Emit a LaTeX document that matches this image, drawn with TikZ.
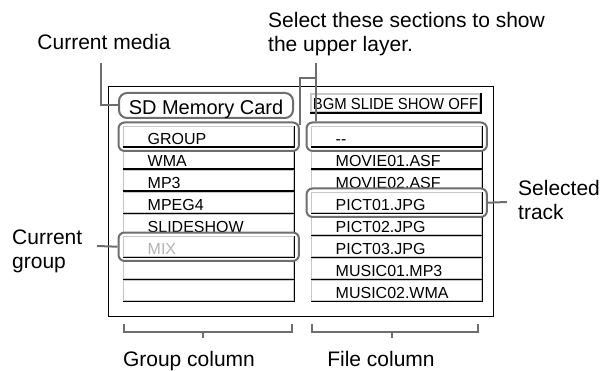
\documentclass[tikz,border=0pt]{standalone}
\usepackage{fontspec}
\setmainfont{Liberation Sans}
\usetikzlibrary{fit}

\definecolor{leadgray}{HTML}{6E6E6E}
\definecolor{edgelight}{HTML}{C8C8C8}
\definecolor{mixgray}{HTML}{B4B4B4}

\newcommand{\labelfont}{\fontsize{21}{24}\selectfont}
\newcommand{\cellfont}{\fontsize{16}{18}\selectfont}

\tikzset{
  lead/.style={draw=leadgray, line width=2pt},
  callout/.style={font=\labelfont, inner sep=0pt, align=left},
  cell/.style={draw=edgelight, line width=1.4pt, fill=white, inner sep=0pt,
    minimum height=20pt, text width=170pt, text height=16pt, text depth=0pt,
    align=left, font=\cellfont, anchor=north west},
  darkedge/.style={draw=black, line width=1.8pt},
  hilite/.style={draw=leadgray, line width=2pt, rounded corners=6pt, fill=white,
    inner xsep=4.5pt, inner ysep=3.5pt},
}

% one row of the menu: name, top left corner, text
\newcommand{\menucell}[3]{%
  \node[cell] (#1) at (#2) {\hspace*{24pt}#3};
  \draw[darkedge] (#1.north east) |- (#1.south west);}

\begin{document}
\begin{tikzpicture}[x=1pt, y=-1pt]
  \useasboundingbox (0,0) rectangle (609,371);

  % screen
  \node[draw, line width=1.1pt, minimum width=385pt, minimum height=230pt,
    anchor=north west, inner sep=0pt] (screen) at (108,86) {};

  % header line
  \node[draw=leadgray, line width=2pt, rounded corners=8pt, minimum width=174pt,
    minimum height=25pt, inner sep=0pt, text height=18pt, text depth=0pt,
    font=\fontsize{20}{22}\selectfont] (media) at (206,105.5) {SD Memory Card};
  \node[draw=edgelight, line width=1.4pt, fill=white, minimum width=169pt,
    minimum height=18pt, inner sep=0pt, text height=14pt, text depth=0pt,
    font=\cellfont] (bgm) at (395.5,103) {\scalebox{0.93}[1]{BGM SLIDE SHOW OFF}};
  \draw[darkedge] (bgm.north east) |- (bgm.south west);

  % group column and file column
  \foreach \txt [count=\i from 0] in {GROUP,WMA,MP3,MPEG4,SLIDESHOW,\textcolor{mixgray}{MIX},{},{}}
    {\menucell{gc\i}{123,126+22*\i}{\txt}}
  \foreach \txt [count=\i from 0] in {{-}{-},MOVIE01.ASF,MOVIE02.ASF,PICT01.JPG,PICT02.JPG,PICT03.JPG,MUSIC01.MP3,MUSIC02.WMA}
    {\menucell{fc\i}{311,126+22*\i}{\txt}}

  % highlighted rows
  \node[hilite, fit=(gc0)] (hgroup) {};
  \menucell{cgroup}{123,126}{GROUP}
  \node[hilite, fit=(gc5)] (hmix) {};
  \menucell{cmix}{123,236}{\textcolor{mixgray}{MIX}}
  \node[hilite, fit=(fc0)] (hdash) {};
  \menucell{cdash}{311,126}{{-}{-}}
  \node[hilite, fit=(fc3)] (hpict) {};
  \menucell{cpict}{311,192}{PICT01.JPG}

  % callouts (base = last line)
  \node[callout, anchor=base] (lmedia) at (104,49.5) {Current media};
  \node[callout, anchor=base west] (lupper) at (268,51.5) {Select these sections to show\\the upper layer.};
  \node[callout, anchor=base west] (lcurgroup) at (12,268.5) {Current\\group};
  \node[callout, anchor=base west] (lseltrack) at (518,219.5) {Selected\\track};
  \node[callout, anchor=base] (lgroupcol) at (189,366) {Group column};
  \node[callout, anchor=base] (lfilecol) at (381,366) {File column};

  % leaders
  \coordinate (kmedia) at (101,63);
  \coordinate (kup) at (316,63);
  \coordinate (kbranch) at (316,78);
  \coordinate (kgroup) at (97,246);
  \coordinate (ktrack) at (507,202);
  \draw[lead] (kmedia) |- (media.west);
  \draw[lead] (kup) -- (kup |- hdash.north);
  \draw[lead] (kbranch) -| ([yshift=-4pt]hgroup.north east);
  \draw[lead] (kgroup) -- (hmix.west);
  \draw[lead] (hpict.east) -- (ktrack);

  % column brackets
  \draw[lead] (124,324) |- (292,332) -- (292,324);
  \draw[lead] (203,332) -- (203,338);
  \draw[lead] (312,324) |- (478,332) -- (478,324);
  \draw[lead] (392,332) -- (392,338);
\end{tikzpicture}
\end{document}
